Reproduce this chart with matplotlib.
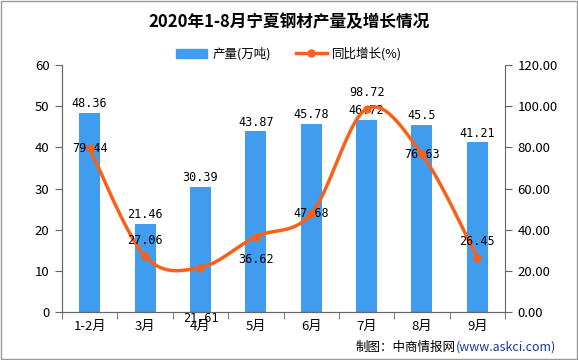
import numpy as np
import matplotlib
matplotlib.use("Agg")
import matplotlib.pyplot as plt
from matplotlib.patches import Patch
from matplotlib.lines import Line2D

plt.rcParams['font.family'] = ['Noto Sans CJK SC', 'DejaVu Sans']

categories = ["1-2月", "3月", "4月", "5月", "6月", "7月", "8月", "9月"]
output = [48.36, 21.46, 30.39, 43.87, 45.78, 46.72, 45.5, 41.21]
growth = [79.44, 27.06, 21.61, 36.62, 47.68, 98.72, 76.63, 26.45]
# label offsets (points) for growth labels
g_off = [(0, 0), (0, 7), (0, -37), (0, -12), (0, 0), (0, 7), (0, 0), (0, 7)]

bar_color = "#3f9cee"
line_color = "#f7621b"

fig = plt.figure(figsize=(5.78, 3.6), dpi=100)
ax = fig.add_axes([62/578, 1-312/360, 443/578, 247/360])
ax2 = ax.twinx()

x = np.arange(len(categories))
ax.bar(x, output, width=0.38, color=bar_color, zorder=2)
for xi, v in zip(x, output):
    ax.annotate(f"{v:g}", (xi, v), xytext=(0, 2), textcoords="offset points",
                ha="center", va="bottom", fontsize=8.5, family="DejaVu Sans Mono")

# smooth curve (Catmull-Rom through data points)
pts = np.column_stack([x, growth]).astype(float)
P = np.vstack([pts[0], pts, pts[-1]])
xs, ys = [], []
for i in range(1, len(P) - 2):
    p0, p1, p2, p3 = P[i-1], P[i], P[i+1], P[i+2]
    t = np.linspace(0, 1, 30)[:, None]
    c = 0.5 * ((2*p1) + (-p0 + p2)*t + (2*p0 - 5*p1 + 4*p2 - p3)*t**2 + (-p0 + 3*p1 - 3*p2 + p3)*t**3)
    xs.extend(c[:, 0]); ys.extend(c[:, 1])
ax2.plot(xs, ys, color=line_color, lw=2.5, zorder=3)
ax2.plot(x, growth, 'o', color=line_color, ms=5, zorder=4)
for xi, v, off in zip(x, growth, g_off):
    va = "bottom" if off[1] > 0 else ("center" if off[1] == 0 else "top")
    if off[1] < -20:
        va = "center"
    ax2.annotate(f"{v:.2f}", (xi, v), xytext=off, textcoords="offset points",
                 ha="center", va=va, fontsize=8.5, family="DejaVu Sans Mono")

ax.set_xlim(-0.5, len(categories) - 0.5)
ax.set_ylim(0, 60)
ax.set_yticks(range(0, 61, 10))
ax2.set_ylim(0, 120)
ax2.set_yticks(range(0, 121, 20))
ax2.set_yticklabels([f"{v:.2f}" for v in range(0, 121, 20)])
ax.set_xticks(x)
ax.set_xticklabels(categories)
ax.set_xticks(np.arange(-0.5, len(categories), 1), minor=True)
ax.tick_params(axis='x', which='major', length=0, labelsize=9.5, pad=6)
ax.tick_params(axis='x', which='minor', length=5, color="#666666")
ax.tick_params(axis='y', length=5, color="#666666", labelsize=9.5, pad=4)
ax2.tick_params(axis='y', length=5, color="#666666", labelsize=9.5, pad=4)
for a in (ax, ax2):
    a.spines['top'].set_visible(False)
    for s in ('left', 'right', 'bottom'):
        a.spines[s].set_color("#666666")
ax.spines['right'].set_visible(False)

fig.text(0.5, 1 - 22/360, "2020年1-8月宁夏钢材产量及增长情况", ha="center", va="center",
         fontsize=12, fontweight="bold")

handles = [Patch(color=bar_color), Line2D([], [], color=line_color, lw=2.5, marker='o', ms=5)]
fig.legend(handles, ["产量(万吨)", "同比增长(%)"], loc="center", bbox_to_anchor=(0.5, 1 - 54/360),
           ncol=2, frameon=False, fontsize=9, handlelength=2.5, columnspacing=2, handletextpad=0.4)

fig.text(456/578, 1 - 347/360, "制图：中商情报网", ha="right", va="center", fontsize=9)
fig.text(456/578, 1 - 347/360, "(www.askci.com)", ha="left", va="center", fontsize=9, color="#1f3a93")

fig.patches.append(plt.Rectangle((0.002, 0.003), 0.996, 0.994, transform=fig.transFigure,
                                 fill=False, edgecolor="#999999", lw=1))
fig.savefig("out.png", dpi=100)
